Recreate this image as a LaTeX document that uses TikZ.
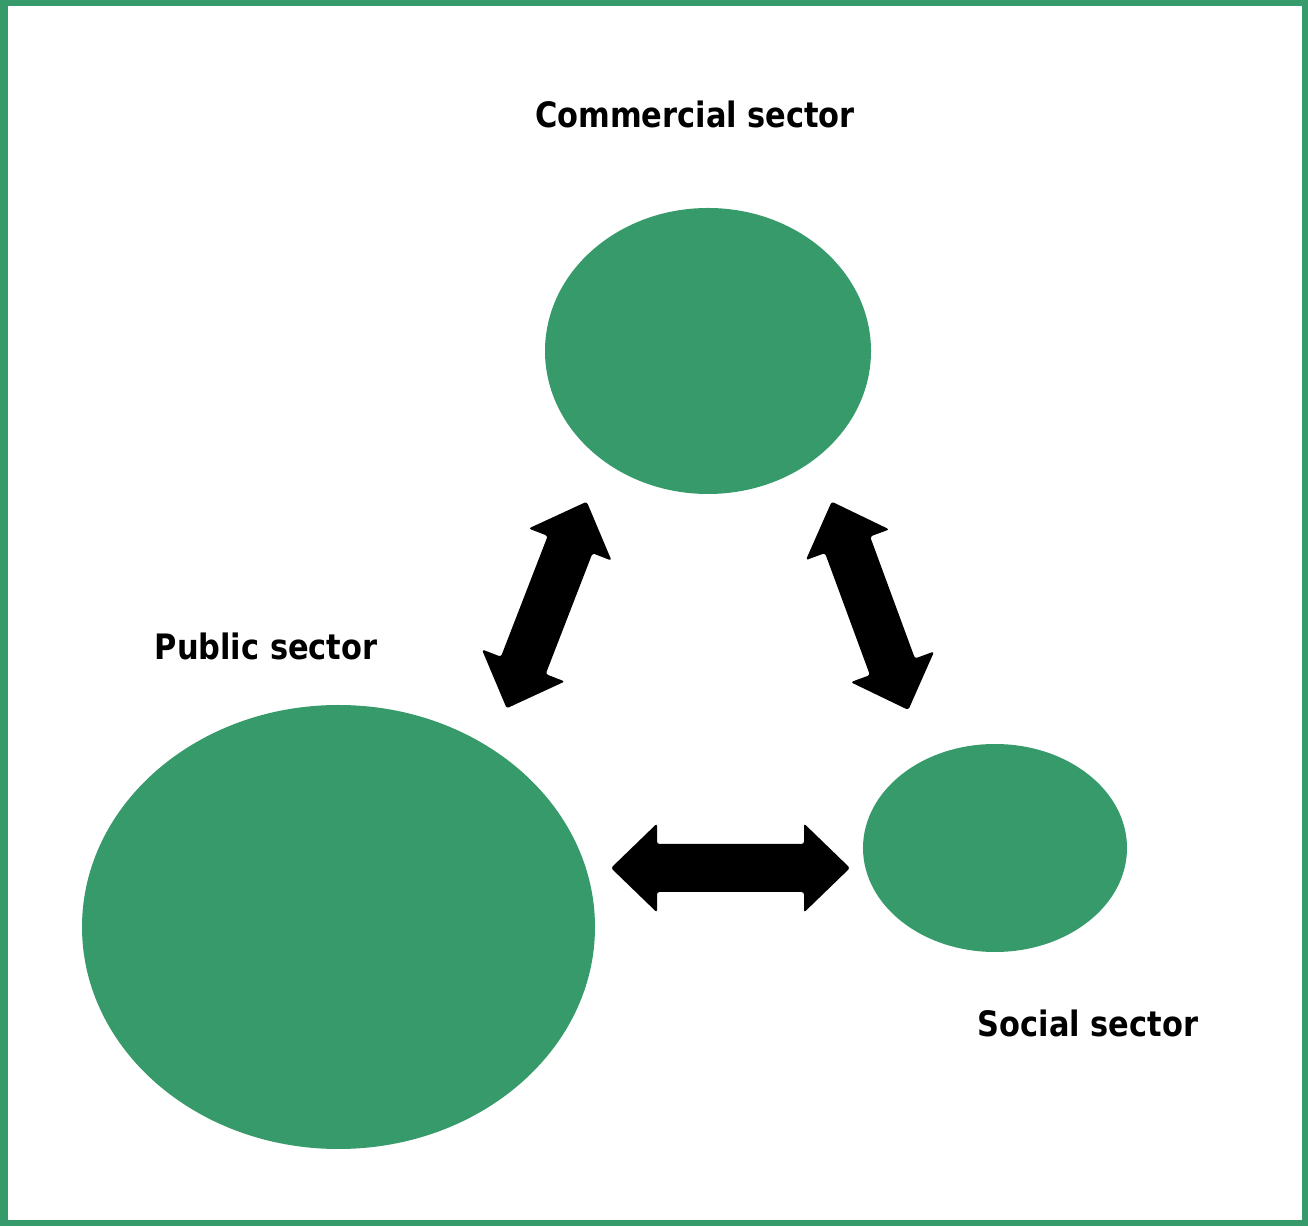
\documentclass[tikz,border=0pt]{standalone}
\usepackage{fontspec}
\newfontfamily\lblfont{DejaVu Sans}[FakeStretch=0.87]
\definecolor{sectorgreen}{RGB}{54,154,106}
\newcommand{\blockarrowat}[4]{%
  \fill[blockarrowstyle, shift={(#1)}, rotate=#2]
    (-#3,0) -- (-#3+46,44.5) -- (-#3+46,24) -- (#3-46,24) -- (#3-46,44.5) -- (#3,0)
    -- (#3-46,-44.5) -- (#3-46,-24) -- (-#3+46,-24) -- (-#3+46,-44.5) -- cycle;
  \coordinate (#4) at (#1);}
\tikzset{
  sector/.style={ellipse, fill=sectorgreen, inner sep=0pt},
  label/.style={font=\lblfont\bfseries\fontsize{35}{40}\selectfont, text=black, inner sep=0pt},
  blockarrowstyle/.style={fill=black, rounded corners=2.5pt},
  frame/.style={draw=sectorgreen, line width=6pt}
}
\usetikzlibrary{shapes.geometric}
\begin{document}
\begin{tikzpicture}[x=1pt,y=1pt]
\useasboundingbox (0,0) rectangle (1308,1226);
\draw[frame] (3,3) rectangle (1305,1223);
\fill[sectorgreen] (0,0) rectangle (8,1226);
% sectors
\node[sector, minimum width=326pt, minimum height=286pt] (commercial) at (708,875) {};
\node[sector, minimum width=513pt, minimum height=444pt] (public) at (338.5,299) {};
\node[sector, minimum width=264pt, minimum height=208pt] (social) at (995,378) {};
% labels
\node[label] (commlabel) at (695,1112) {Commercial sector};
\node[label] (publabel) at (266,580) {Public sector};
\node[label] (soclabel) at (1088,203) {Social sector};
% block arrows between sectors
\coordinate (ml) at (546.7,621);
\coordinate (mr) at (870,620.2);
\coordinate (mb) at (730.5,358);
\blockarrowat{ml}{68.83}{110.8}{arrowPC}
\blockarrowat{mr}{-69.8}{111}{arrowCS}
\blockarrowat{mb}{0}{119.5}{arrowPS}
\end{tikzpicture}
\end{document}
